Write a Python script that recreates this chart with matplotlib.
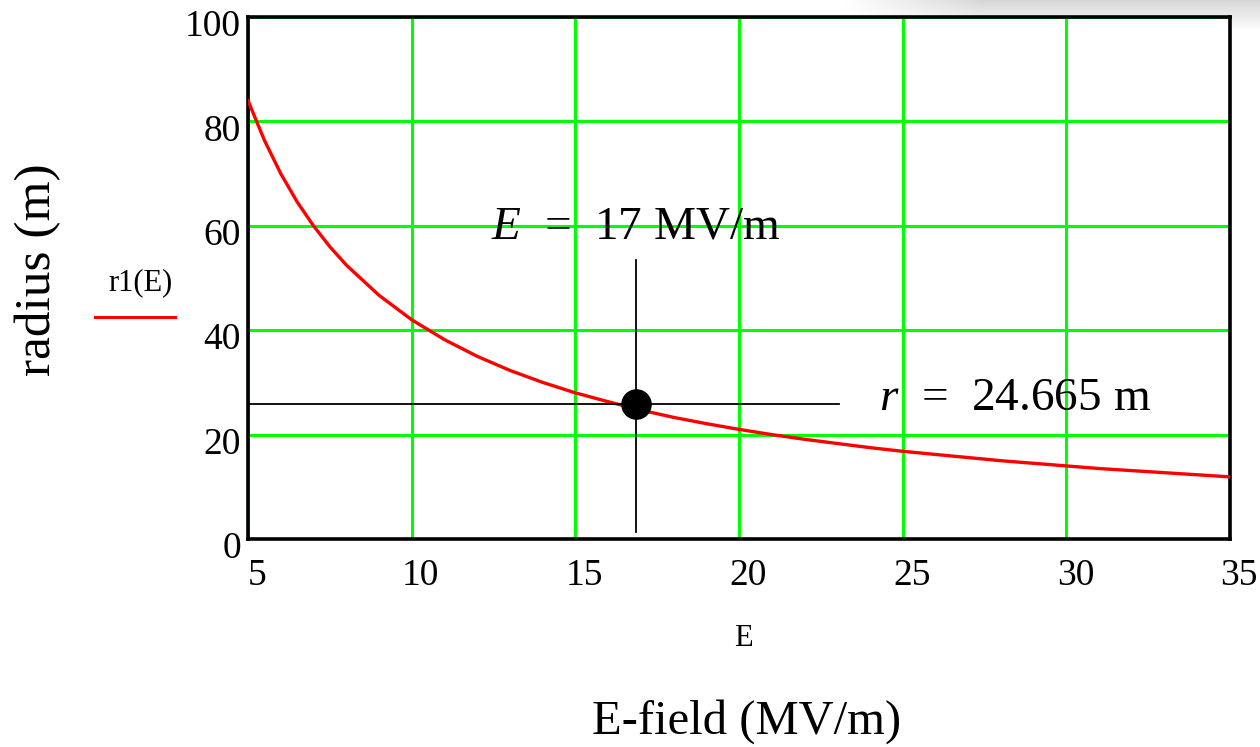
import matplotlib
matplotlib.use('Agg')
import matplotlib.pyplot as plt
import matplotlib.transforms as mtransforms
from matplotlib.lines import Line2D
import numpy as np

plt.rcParams['font.family'] = ['Liberation Serif', 'DejaVu Serif']
plt.rcParams['mathtext.fontset'] = 'custom'
plt.rcParams['mathtext.it'] = 'Liberation Serif:italic'
plt.rcParams['mathtext.rm'] = 'Liberation Serif'

# ---- data ----
E_vals = [5, 5.5, 6, 6.5, 7, 7.5, 8, 9, 10, 11, 12, 13, 14, 15, 16, 17, 18, 19, 20,
          21, 22, 23, 24, 25, 26, 27, 28, 29, 30, 31, 32, 33, 34, 35]
r_vals = [84.0, 76.4, 70.0, 64.6, 60.0, 56.0, 52.5, 46.7, 42.0, 38.2, 35.0, 32.3,
          30.0, 28.0, 26.3, 24.7, 23.3, 22.1, 21.0, 20.0, 19.1, 18.3, 17.5, 16.8,
          16.2, 15.6, 15.0, 14.5, 14.0, 13.5, 13.1, 12.7, 12.3, 11.9]
x_ticks = [5, 10, 15, 20, 25, 30, 35]
y_ticks = [0, 20, 40, 60, 80, 100]
marker_E = 16.85
marker_r = 25.9
vline_r = (1.3, 53.4)
hline_E = (5.0, 23.05)
label_E = '$E$  =  17 MV/m'
label_r = '$r$  =  24.665 m'

fig = plt.figure(figsize=(12.6, 7.47), dpi=100)

# faint screenshot shadow at top-right
sh = fig.add_axes([840/1260, 1-45/747, 420/1260, 45/747], zorder=-5)
h, w = 45, 420
yy = np.linspace(0, 1, h)[:, None]
xx = np.linspace(0, 1, w)[None, :]
alpha = np.clip(1 - yy * 1.4, 0, 1) * np.clip(xx * 3.0, 0, 1) * 0.16
img = np.zeros((h, w, 4))
img[..., 3] = alpha
sh.imshow(img, aspect='auto', extent=[0, 1, 0, 1], origin='upper')
sh.axis('off')

ax = fig.add_axes([248/1260, 1-539/747, 982/1260, 522/747])
ax.set_xlim(5, 35)
ax.set_ylim(0, 100)
ax.set_xticks(x_ticks)
ax.set_yticks(y_ticks)
ax.grid(True, color='#00FF00', lw=2.2)
ax.set_axisbelow(True)
for s in ax.spines.values():
    s.set_linewidth(2.6)
    s.set_color('black')
ax.tick_params(length=0, labelsize=27)
ax.tick_params(axis='x', pad=14)
ax.tick_params(axis='y', pad=5)
offx = mtransforms.ScaledTranslation(0.09, 0, fig.dpi_scale_trans)
for lab in ax.get_xticklabels():
    lab.set_transform(lab.get_transform() + offx)
offy = mtransforms.ScaledTranslation(0, -0.06, fig.dpi_scale_trans)
for lab in ax.get_yticklabels():
    lab.set_transform(lab.get_transform() + offy)

ax.plot(E_vals, r_vals, color='#FF0000', lw=2.4, zorder=3)
ax.plot([marker_E, marker_E], list(vline_r), color='black', lw=1.3, zorder=4)
ax.plot(list(hline_E), [marker_r, marker_r], color='black', lw=1.3, zorder=4)
ax.plot([marker_E], [marker_r], 'o', color='black', ms=21, zorder=5)

ax.text(marker_E, 59.8, label_E, fontsize=34, ha='center', va='center', zorder=6)
ax.text(28.42, 26.9, label_r, fontsize=34, ha='center', va='center', zorder=6)

fig.text(38/1260, 1-270/747, 'radius (m)', rotation=90, fontsize=37, ha='center', va='center')
fig.text(743/1260, 1-638/747, 'E', fontsize=22, ha='center', va='center')
fig.text(747/1260, 1-722/747, 'E-field (MV/m)', fontsize=35, ha='center', va='center')
fig.text(141/1260, 1-283/747, 'r1(E)', fontsize=22, ha='center', va='center')
fig.add_artist(Line2D([95/1260, 175/1260], [1-317/747, 1-317/747], color='#FF0000', lw=2.2))

fig.savefig('out.png', dpi=100)
